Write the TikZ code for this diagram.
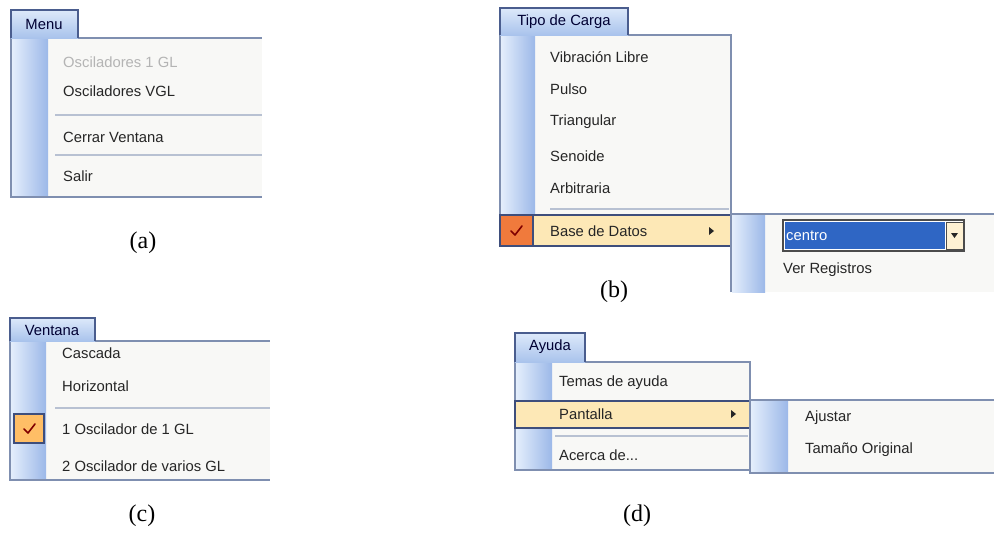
\documentclass[tikz,border=0pt]{standalone}
\usepackage{fontspec}
\setmainfont{Liberation Sans}
\newfontfamily\labfont{Liberation Serif}
\definecolor{menubg}{HTML}{F8F8F6}
\definecolor{stripL}{HTML}{E4EEFC}
\definecolor{stripR}{HTML}{9CB8E8}
\definecolor{bordc}{HTML}{7F8FB0}
\definecolor{tabtop}{HTML}{DDE9FA}
\definecolor{tabbot}{HTML}{A9C3EC}
\definecolor{tabbord}{HTML}{4A5D8E}
\definecolor{hilite}{HTML}{FDE8B6}
\definecolor{hibord}{HTML}{3E4E7C}
\definecolor{sepc}{HTML}{B8C1D2}
\definecolor{txtc}{HTML}{262626}
\definecolor{disc}{HTML}{B4B4B4}
\definecolor{checkA}{HTML}{F07A3C}
\definecolor{checkB}{HTML}{FFBE66}
\definecolor{combo}{HTML}{2F66C4}
\tikzset{
  item/.style={anchor=west,inner sep=0pt,font=\fontsize{14.8}{15}\selectfont,text=txtc},
  tabtext/.style={anchor=center,inner sep=0pt,font=\fontsize{14.8}{15}\selectfont,text=black!80!blue},
  lab/.style={inner sep=0pt,font=\labfont\fontsize{24}{24}\selectfont},
  bord/.style={draw=bordc,line width=1.2pt},
  sepline/.style={draw=sepc,line width=1.2pt},
  tabbox/.style={top color=tabtop,bottom color=tabbot,draw=tabbord,line width=1.2pt},
  strip/.style={left color=stripL,right color=stripR},
  hibox/.style={fill=hilite,draw=hibord,line width=1.2pt},
  chk/.style={draw=hibord,line width=1.2pt},
  tick/.style={draw=red!50!black,line width=1.6pt,line cap=round,line join=round},
  arr/.style={fill=black!85}
}
\begin{document}
\begin{tikzpicture}[x=1pt,y=-1pt]
\useasboundingbox (0,0) rectangle (994,533);
\fill[white] (0,0) rectangle (994,533);

% ---------------- (a)
\fill[menubg] (11,38) rectangle (262,197);
\shade[strip] (12,39) rectangle (48,196);
\draw[bord] (11,38) -- (11,197) -- (262,197);
\draw[bord] (78,38) -- (262,38);
\shade[tabbox] (11,38) -- (11,10) -- (78,10) -- (78,38);
\node[tabtext] (aTab) at (44,24) {Menu};
\node[item,text=disc] (a1) at (63,62) {Osciladores 1 GL};
\node[item] (a2) at (63,91) {Osciladores VGL};
\draw[sepline] (55,115) -- (262,115);
\node[item] (a3) at (63,137) {Cerrar Ventana};
\draw[sepline] (55,155) -- (262,155);
\node[item] (a4) at (63,176) {Salir};
\node[lab] (la) at (143,243) {(a)};

% ---------------- (b)
\fill[menubg] (500,35) rectangle (731,246);
\shade[strip] (501,36) rectangle (535,246);
\draw[bord] (628,35) -- (731,35) -- (731,246);
\draw[bord] (500,35) -- (500,246);
\shade[tabbox] (500,35) -- (500,8) -- (628,8) -- (628,35);
\node[tabtext] (bTab) at (564,22) {Tipo de Carga};
\node[item] (b1) at (550,57) {Vibración Libre};
\node[item] (b2) at (550,89) {Pulso};
\node[item] (b3) at (550,122) {Triangular};
\node[item] (b4) at (550,156) {Senoide};
\node[item] (b5) at (550,188) {Arbitraria};
\draw[sepline] (550,209) -- (729,209);
\draw[hibox] (500,215) rectangle (731,246);
\draw[chk,fill=checkA] (500,215) rectangle (533,246);
\draw[tick] (511,231) -- (515,235) -- (522,226);
\node[item] (b6) at (550,231) {Base de Datos};
\fill[arr] (709,227) -- (714,231) -- (709,235) -- cycle;
% submenu
\fill[menubg] (731,214) rectangle (994,292);
\shade[strip] (732,215) rectangle (765,292);
\draw[bord] (731,292) -- (731,214) -- (994,214);
\draw[draw=black!70,line width=1.2pt,fill=white] (783,220) rectangle (964,251);
\fill[combo] (785,222) rectangle (945,249);
\node[item,text=white] (b7) at (786,236) {centro};
\draw[draw=black!70,line width=1pt,fill=hilite!60!white] (946,222) rectangle (963,249);
\fill[arr] (951,233) -- (958,233) -- (954.5,238) -- cycle;
\node[item] (b8) at (783,270) {Ver Registros};
\node[lab] (lb) at (614,292) {(b)};

% ---------------- (c)
\fill[menubg] (10,341) rectangle (270,480);
\shade[strip] (11,342) rectangle (46,479);
\draw[bord] (10,341) -- (10,480) -- (270,480);
\draw[bord] (95,341) -- (270,341);
\shade[tabbox] (10,341) -- (10,318) -- (95,318) -- (95,341);
\node[tabtext] (cTab) at (52,330) {Ventana};
\node[item] (c1) at (62,353) {Cascada};
\node[item] (c2) at (62,386) {Horizontal};
\draw[sepline] (55,408) -- (270,408);
\draw[chk,fill=checkB] (14,414) rectangle (44,443);
\draw[tick] (24,429) -- (28,433) -- (35,424);
\node[item] (c3) at (62,429) {1 Oscilador de 1 GL};
\node[item] (c4) at (62,466) {2 Oscilador de varios GL};
\node[lab] (lc) at (142,516) {(c)};

% ---------------- (d)
\fill[menubg] (515,362) rectangle (750,470);
\shade[strip] (516,363) rectangle (552,469);
\draw[bord] (585,362) -- (750,362) -- (750,470) -- (515,470) -- (515,362);
\shade[tabbox] (515,362) -- (515,333) -- (585,333) -- (585,362);
\node[tabtext] (dTab) at (550,347) {Ayuda};
\node[item] (d1) at (559,383) {Temas de ayuda};
\draw[hibox] (515,401) rectangle (750,428);
\node[item] (d2) at (559,414) {Pantalla};
\fill[arr] (731,410) -- (736,414) -- (731,418) -- cycle;
\draw[sepline] (555,436) -- (748,436);
\node[item] (d3) at (559,455) {Acerca de...};
% submenu
\fill[menubg] (750,400) rectangle (994,473);
\shade[strip] (751,401) rectangle (788,472);
\draw[bord] (994,400) -- (750,400) -- (750,473) -- (994,473);
\node[item] (d4) at (805,418) {Ajustar};
\node[item] (d5) at (805,450) {Tamaño Original};
\node[lab] (ld) at (637,516) {(d)};
\end{tikzpicture}
\end{document}
